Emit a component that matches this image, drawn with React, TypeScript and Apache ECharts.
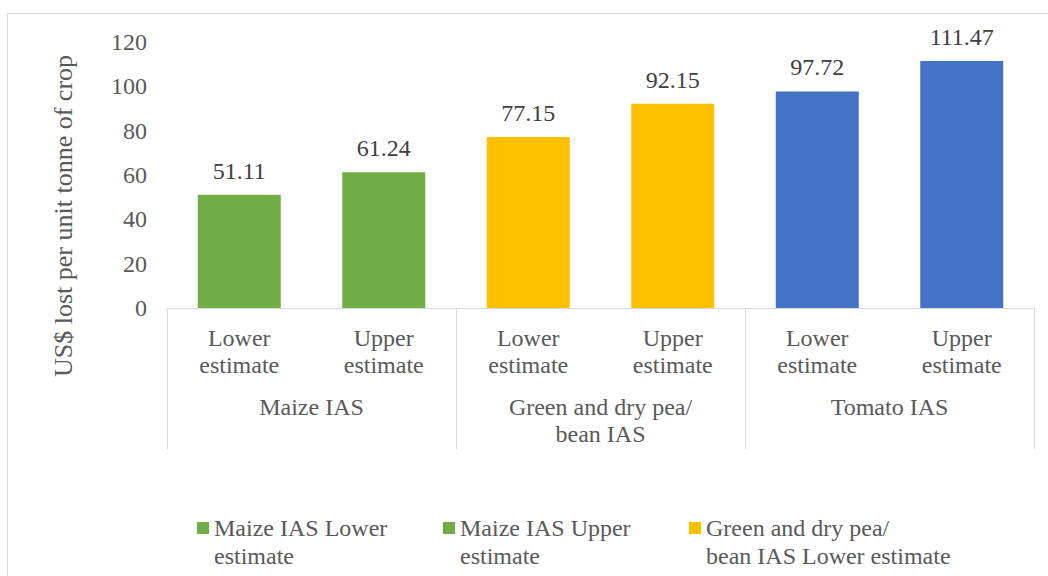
import React, { useEffect, useRef } from "react";
import * as echarts from "echarts";

// Bar categories (lower level of the x axis) and the crop groups (upper level)
const estimateLabels = [
  "Lower\nestimate",
  "Upper\nestimate",
  "Lower\nestimate",
  "Upper\nestimate",
  "Lower\nestimate",
  "Upper\nestimate",
];
const cropGroups = ["Maize IAS", "Green and dry pea/\nbean IAS", "Tomato IAS"];

// One series per bar
const seriesNames = [
  "Maize IAS Lower estimate",
  "Maize IAS Upper estimate",
  "Green and dry pea/ bean IAS Lower estimate",
  "Green and dry pea/ bean IAS Upper estimate",
  "Tomato IAS Lower estimate",
  "Tomato IAS Upper estimate",
];
// Legend entries shown in the first legend row, with their line breaks
const legendNames = seriesNames.slice(0, 3);
const legendLines = [
  "Maize IAS Lower\nestimate",
  "Maize IAS Upper\nestimate",
  "Green and dry pea/\nbean IAS Lower estimate",
];
const lossValues = [51.11, 61.24, 77.15, 92.15, 97.72, 111.47];
const seriesColors = ["#70AD47", "#70AD47", "#FFC000", "#FFC000", "#4472C4", "#4472C4"];

const yTicks = { min: 0, max: 120, interval: 20 };
const yTitle = "US$ lost per unit tonne of crop";

const FONT = '"Times New Roman", "Liberation Serif", serif';
const TEXT = "#595959";
const LINE = "#D9D9D9";

export default function App() {
  const ref = useRef<HTMLDivElement>(null);

  useEffect(() => {
    document.body.style.margin = "0";
    const chart = echarts.init(ref.current!, undefined, { renderer: "svg" });

    const series = seriesNames.map((name, i) => ({
      name,
      type: "bar",
      stack: "cost",
      barWidth: 83,
      xAxisIndex: 0,
      itemStyle: { color: seriesColors[i] },
      data: lossValues.map((v, j) => (j === i ? v : "-")),
      label: {
        show: true,
        position: "top",
        distance: 12,
        color: "#404040",
        fontFamily: FONT,
        fontSize: 24,
        formatter: (p: any) => Number(p.value).toFixed(2),
      },
    }));

    chart.setOption({
      animation: false,
      textStyle: { fontFamily: FONT },
      grid: { left: 167, right: 14, top: 42, bottom: 268, containLabel: false },
      xAxis: [
        {
          type: "category",
          data: estimateLabels,
          axisLine: { lineStyle: { color: LINE, width: 1 } },
          axisTick: { show: false },
          axisLabel: {
            interval: 0,
            margin: 16,
            color: TEXT,
            fontFamily: FONT,
            fontSize: 24,
            lineHeight: 27,
          },
        },
        {
          type: "category",
          position: "bottom",
          data: cropGroups,
          axisLine: { show: false },
          axisTick: {
            show: true,
            interval: 0,
            length: 141,
            lineStyle: { color: LINE, width: 1 },
          },
          axisLabel: {
            interval: 0,
            margin: 85,
            color: TEXT,
            fontFamily: FONT,
            fontSize: 24,
            lineHeight: 27,
          },
        },
      ],
      yAxis: {
        type: "value",
        min: yTicks.min,
        max: yTicks.max,
        interval: yTicks.interval,
        axisLine: { show: false },
        axisTick: { show: false },
        splitLine: { show: false },
        axisLabel: { margin: 20, color: TEXT, fontFamily: FONT, fontSize: 24 },
      },
      legend: {
        data: legendNames,
        left: 197,
        top: 486,
        padding: 0,
        itemGap: 0,
        itemWidth: 12,
        itemHeight: 12,
        icon: "rect",
        selectedMode: false,
        // leading blank line keeps the marker level with the first text line
        formatter: (name: string) => "\n" + legendLines[legendNames.indexOf(name)],
        textStyle: {
          color: TEXT,
          fontFamily: FONT,
          fontSize: 24,
          lineHeight: 28,
          width: 229,
        },
      },
      graphic: [
        {
          type: "rect",
          shape: { x: 7.5, y: 13.5, width: 1045, height: 620 },
          style: { fill: "none", stroke: LINE, lineWidth: 1 },
          silent: true,
        },
        {
          type: "text",
          x: 63,
          y: 216,
          rotation: Math.PI / 2,
          style: {
            text: yTitle,
            fill: TEXT,
            fontFamily: FONT,
            fontSize: 26,
            align: "center",
            verticalAlign: "middle",
          },
        },
      ],
      series,
    });

    return () => chart.dispose();
  }, []);

  return <div ref={ref} style={{ width: 1048, height: 576 }} />;
}
